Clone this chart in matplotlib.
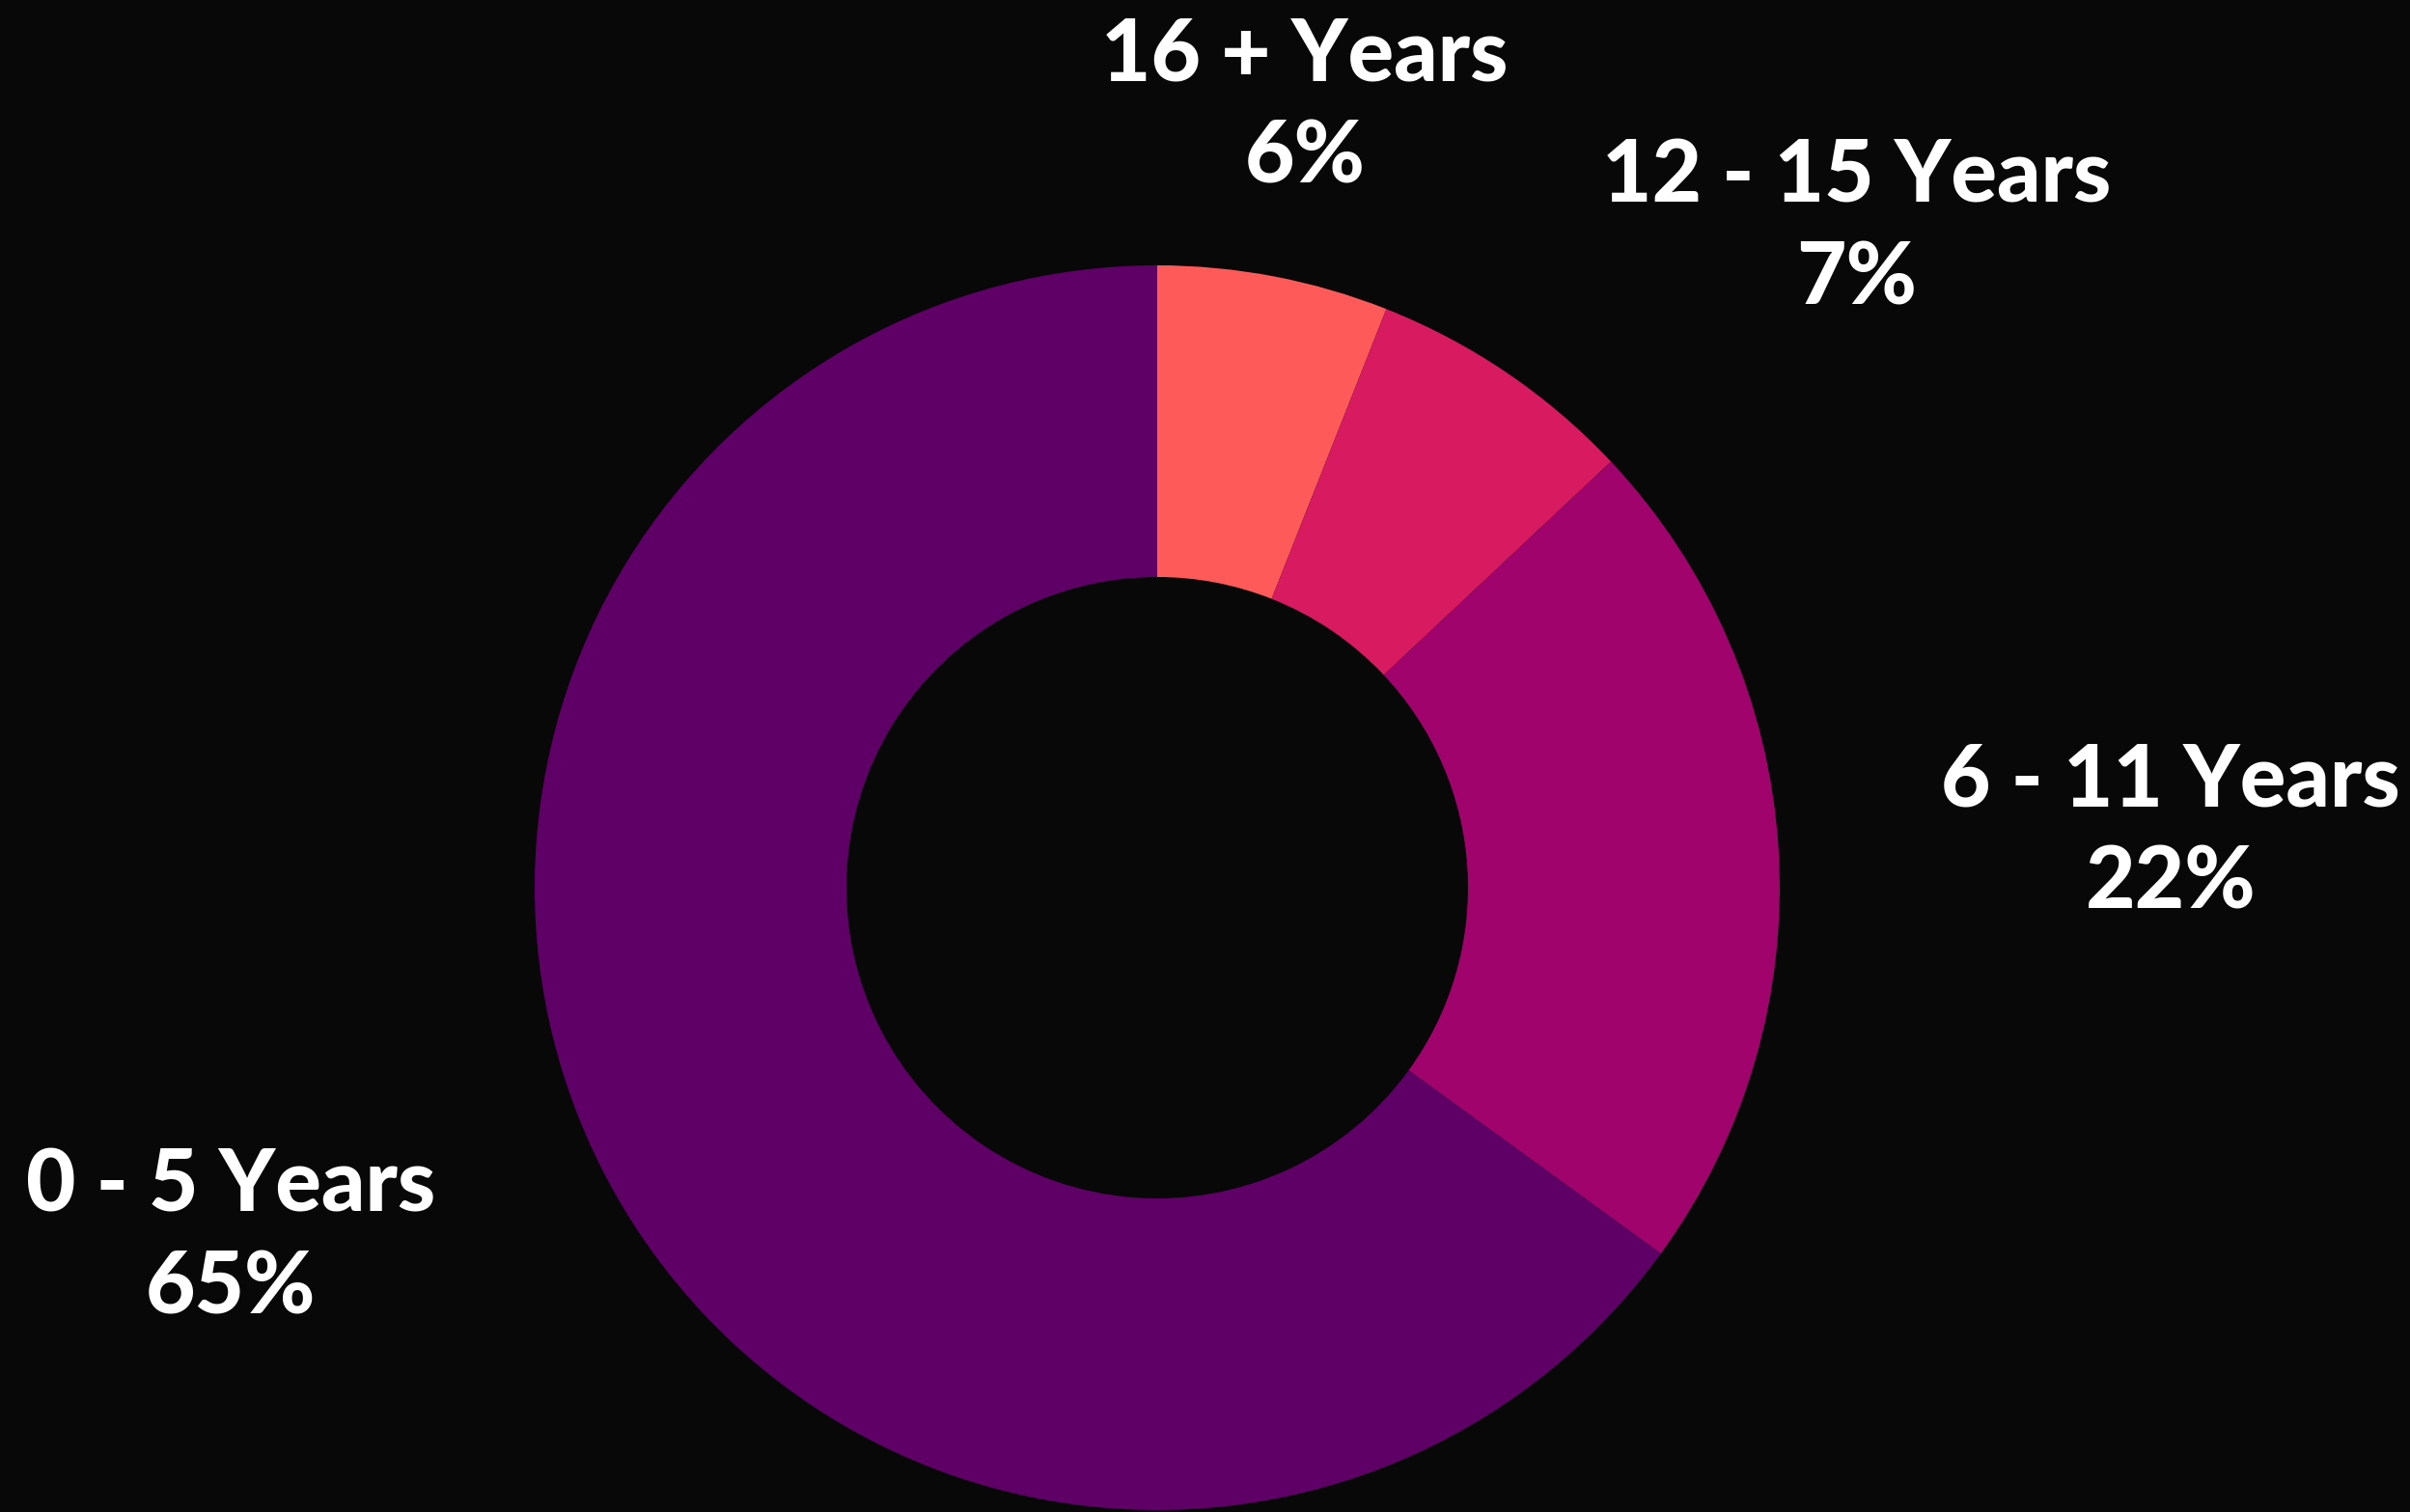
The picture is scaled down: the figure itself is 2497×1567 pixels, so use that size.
import matplotlib.pyplot as plt

# data, clockwise from the top
groups = ['16 + Years', '12 - 15 Years', '6 - 11 Years', '0 - 5 Years']
shares = [6, 7, 22, 65]
colors = ['#FF5A5A', '#D81B60', '#A1036D', '#5F0067']

W, H = 2497, 1567
bg = '#080808'

fig = plt.figure(figsize=(W / 100, H / 100), dpi=100, facecolor=bg)
ax = fig.add_axes([0, 0, 1, 1])
ax.set_facecolor(bg)

cx, cy = 1199, H - 920
ax.pie(shares, colors=colors, startangle=90, counterclock=False,
       center=(cx, cy), radius=645,
       wedgeprops=dict(width=323, linewidth=0))

# label anchors (pixels from top-left)
label_xy = [(1352, 58), (1924, 183), (2249, 809), (239, 1230)]
pct_gap = 106
font = dict(family=['Lato', 'DejaVu Sans'], fontweight='black', color='white',
            fontsize=64, ha='center', va='center')
for name, val, (x, y) in zip(groups, shares, label_xy):
    ax.text(x, H - y, name, **font)
    ax.text(x, H - y - pct_gap, f'{val}%', **font)

ax.set_xlim(0, W)
ax.set_ylim(0, H)
ax.set_aspect('equal')
ax.axis('off')
fig.savefig('out.png', dpi=100, facecolor=bg)
